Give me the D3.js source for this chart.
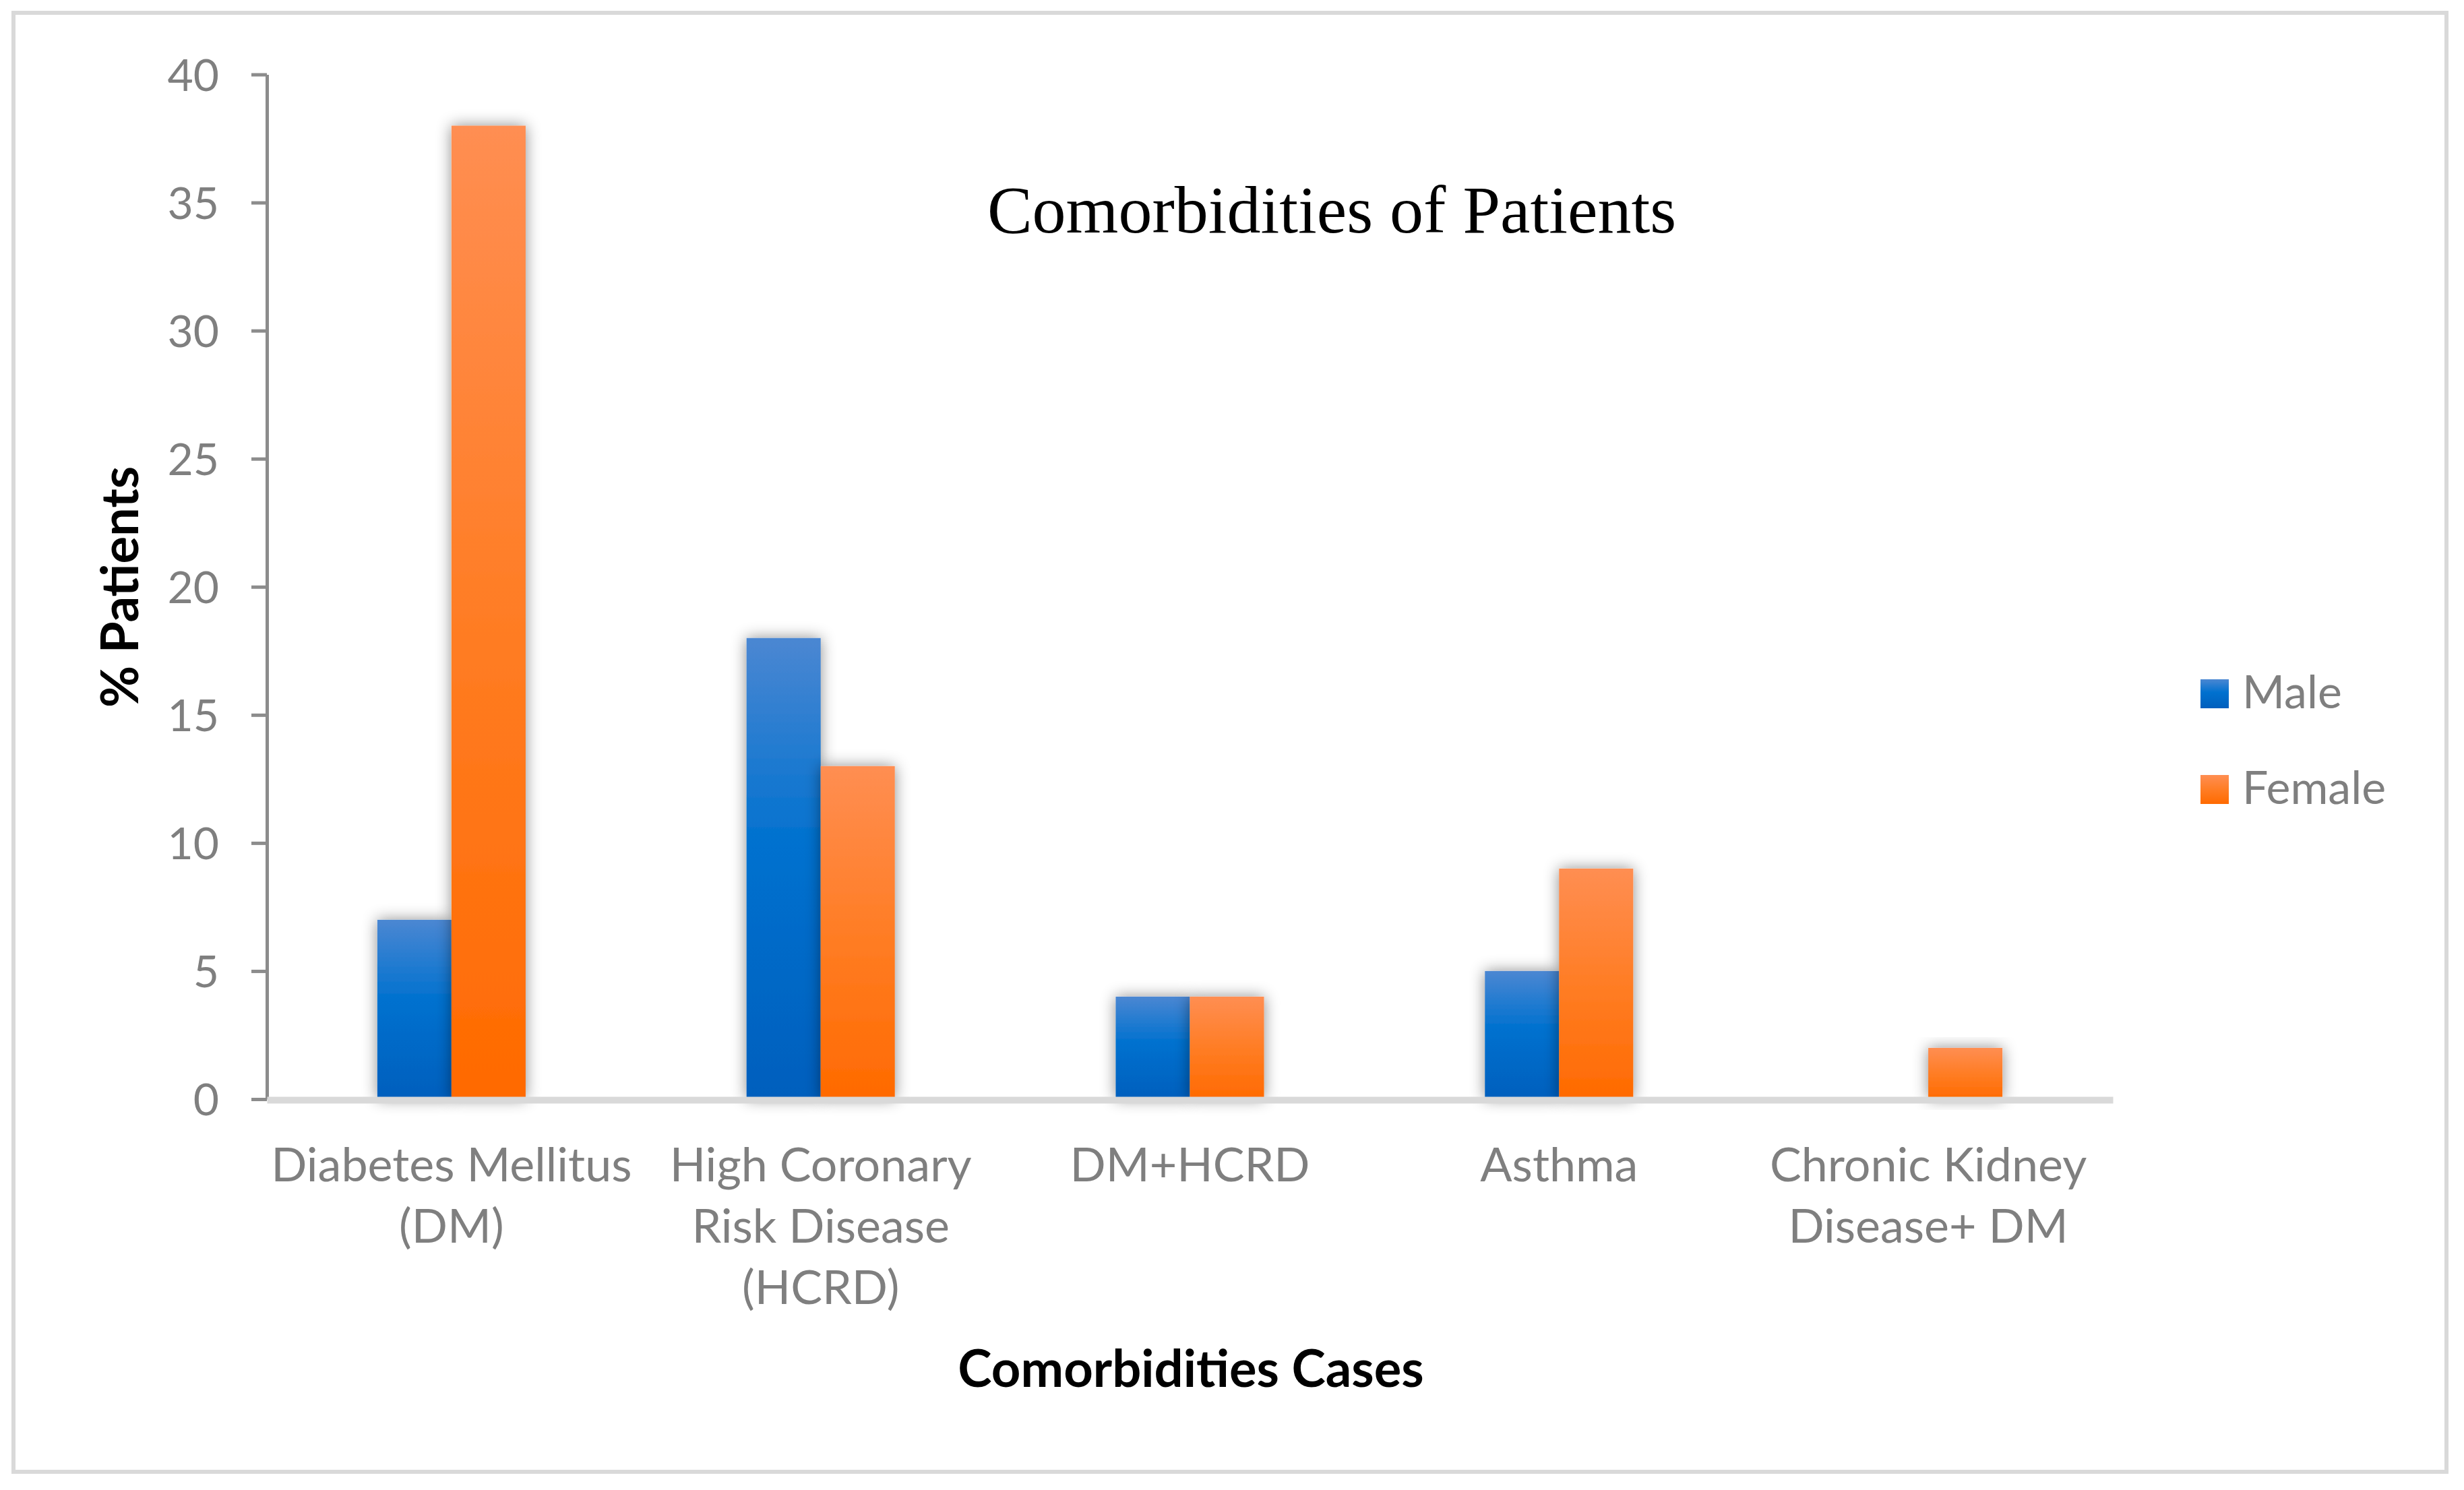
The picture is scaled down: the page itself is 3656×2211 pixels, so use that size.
<!DOCTYPE html>
<html>
<head>
<meta charset="utf-8">
<script src="https://cdn.jsdelivr.net/npm/d3@7"></script>
<style>
  body { margin: 0; background: #fff; }
  svg { display: block; }
</style>
</head>
<body>
<div id="chart"></div>
<script>
// data
var categories = ['Diabetes Mellitus (DM)', 'High Coronary Risk Disease (HCRD)', 'DM+HCRD', 'Asthma', 'Chronic Kidney Disease+ DM'];
var categoryLines = [
    ['Diabetes Mellitus', '(DM)'],
    ['High Coronary', 'Risk Disease', '(HCRD)'],
    ['DM+HCRD'],
    ['Asthma'],
    ['Chronic Kidney', 'Disease+ DM']
];
var seriesNames = ['Male', 'Female'];
var maleValues = [7, 18, 4, 5, 0];
var femaleValues = [38, 13, 4, 9, 2];
var yTicks = [0, 5, 10, 15, 20, 25, 30, 35, 40];

var width = 3656,
    height = 2211,
    plotLeft = 396,
    plotRight = 3135,
    plotTop = 110.5,
    plotBottom = 1631;

var svg = d3.select('#chart')
    .append('svg')
    .attr('width', width)
    .attr('height', height);

var defs = svg.append('defs');

var addGradient = function (id, stops) {
    var g = defs.append('linearGradient')
        .attr('id', id)
        .attr('x1', 0).attr('y1', 0)
        .attr('x2', 0).attr('y2', 1);
    stops.forEach(function (s) {
        g.append('stop').attr('offset', s[0]).attr('stop-color', s[1]);
    });
};
addGradient('grad-male', [[0, '#4b87d2'], [0.45, '#0071cf'], [1, '#005fbd']]);
addGradient('grad-female', [[0, '#ff8e52'], [0.5, '#ff7d25'], [1, '#ff6a00']]);

var shadow = defs.append('filter')
    .attr('id', 'bar-shadow')
    .attr('x', '-50%').attr('y', '-20%')
    .attr('width', '200%').attr('height', '140%');
shadow.append('feDropShadow')
    .attr('dx', 0).attr('dy', 0)
    .attr('stdDeviation', 11)
    .attr('flood-color', '#000')
    .attr('flood-opacity', 0.45);

// chart area border
svg.append('rect')
    .attr('x', 20)
    .attr('y', 19)
    .attr('width', 3610)
    .attr('height', 2165)
    .attr('fill', '#fff')
    .attr('stroke', '#d9d9d9')
    .attr('stroke-width', 6);

var x0 = d3.scaleBand()
    .domain(categories)
    .range([plotLeft, plotRight]);

var x1 = d3.scaleBand()
    .domain(seriesNames)
    .range([0, x0.bandwidth()])
    .paddingOuter(1.49);

var y = d3.scaleLinear()
    .domain([0, 40])
    .range([plotBottom, plotTop]);

var series = [
    { name: 'Male', values: maleValues, fill: 'url(#grad-male)' },
    { name: 'Female', values: femaleValues, fill: 'url(#grad-female)' }
];

// bars
var groups = svg.append('g')
    .selectAll('g')
    .data(categories)
    .enter()
    .append('g')
    .attr('transform', function (d) { return 'translate(' + x0(d) + ',0)'; });

groups.selectAll('rect')
    .data(function (d, i) {
        return series.map(function (s) {
            return { name: s.name, value: s.values[i], fill: s.fill };
        }).filter(function (b) { return b.value > 0; });
    })
    .enter()
    .append('rect')
    .attr('x', function (d) { return x1(d.name); })
    .attr('width', x1.bandwidth())
    .attr('y', function (d) { return y(d.value); })
    .attr('height', function (d) { return y(0) - y(d.value); })
    .attr('fill', function (d) { return d.fill; })
    .attr('filter', 'url(#bar-shadow)');

// y axis
var yAxis = svg.append('g')
    .attr('transform', 'translate(' + plotLeft + ',0)')
    .call(d3.axisLeft(y)
        .tickValues(yTicks)
        .tickSize(23)
        .tickSizeOuter(0)
        .tickPadding(48));

yAxis.select('.domain')
    .attr('stroke', '#8c8c8c')
    .attr('stroke-width', 5);
yAxis.selectAll('.tick line')
    .attr('stroke', '#8c8c8c')
    .attr('stroke-width', 5);
yAxis.selectAll('.tick text')
    .attr('fill', '#7f7f7f')
    .attr('font-family', 'Lato, sans-serif')
    .attr('font-size', 66)
    .attr('dy', '0.36em');

// x axis
var xAxis = svg.append('g')
    .attr('transform', 'translate(0,' + (plotBottom + 1) + ')')
    .call(d3.axisBottom(x0).tickSize(0).tickSizeOuter(0));

xAxis.select('.domain')
    .attr('stroke', '#d9d9d9')
    .attr('stroke-width', 10);

xAxis.selectAll('.tick text').remove();
xAxis.selectAll('.tick')
    .append('text')
    .attr('fill', '#7f7f7f')
    .attr('font-family', 'Lato, sans-serif')
    .attr('font-size', 70)
    .attr('text-anchor', 'middle')
    .selectAll('tspan')
    .data(function (d) { return categoryLines[categories.indexOf(d)]; })
    .enter()
    .append('tspan')
    .attr('x', 0)
    .attr('y', function (d, i) { return 121 + i * 91; })
    .text(function (d) { return d; });

// title
svg.append('text')
    .attr('x', 1976)
    .attr('y', 345)
    .attr('text-anchor', 'middle')
    .attr('font-family', '"Liberation Serif", "Times New Roman", serif')
    .attr('font-size', 100)
    .attr('fill', '#000')
    .text('Comorbidities of Patients');

// axis titles
svg.append('text')
    .attr('transform', 'translate(205,871) rotate(-90)')
    .attr('text-anchor', 'middle')
    .attr('font-family', 'Lato, sans-serif')
    .attr('font-weight', 'bold')
    .attr('font-size', 76)
    .attr('fill', '#000')
    .text('% Patients');

svg.append('text')
    .attr('x', 1767)
    .attr('y', 2058)
    .attr('text-anchor', 'middle')
    .attr('font-family', 'Lato, sans-serif')
    .attr('font-weight', 'bold')
    .attr('font-size', 76)
    .attr('fill', '#000')
    .text('Comorbidities Cases');

// legend
var legend = svg.append('g')
    .selectAll('g')
    .data(series)
    .enter()
    .append('g')
    .attr('transform', function (d, i) { return 'translate(3265,' + (1008 + i * 142) + ')'; });

legend.append('rect')
    .attr('width', 42)
    .attr('height', 43)
    .attr('fill', function (d) { return d.fill; });

legend.append('text')
    .attr('x', 62)
    .attr('y', 43)
    .attr('fill', '#7f7f7f')
    .attr('font-family', 'Lato, sans-serif')
    .attr('font-size', 68)
    .text(function (d) { return d.name; });
</script>
</body>
</html>
